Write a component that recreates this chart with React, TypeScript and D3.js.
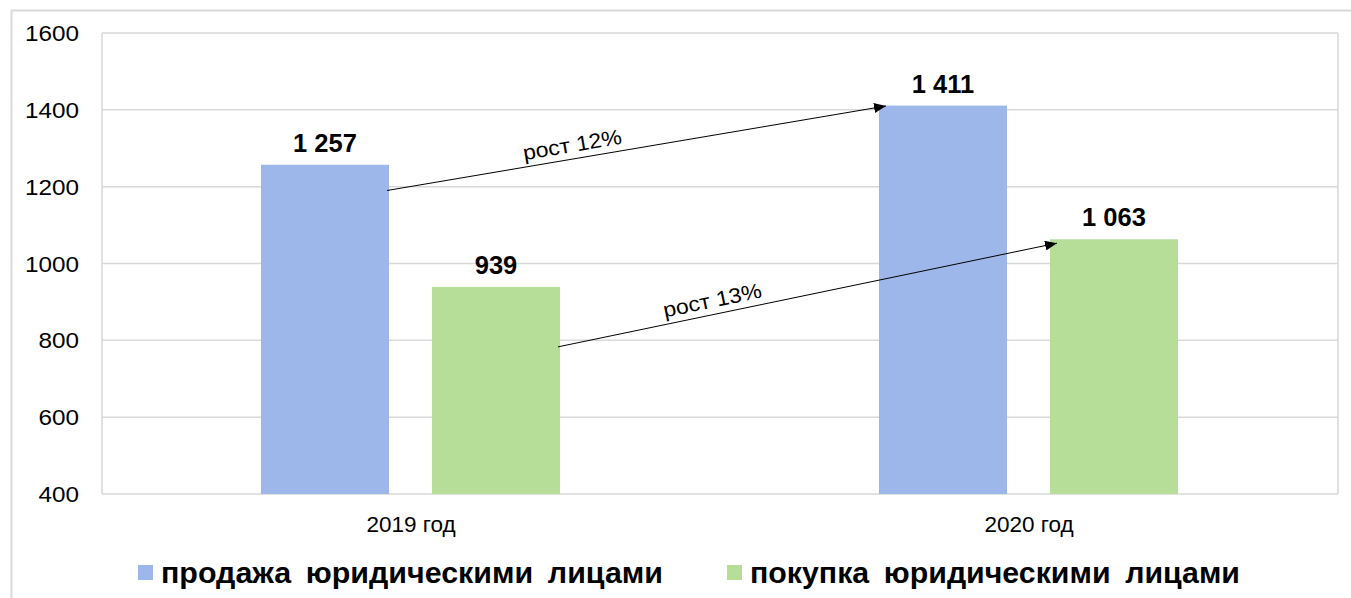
import React from "react";
import * as d3 from "d3";

const categories = ["2019 год", "2020 год"];
const seriesNames = ["продажа юридическими лицами", "покупка юридическими лицами"];
const seriesColors = ["#9db7eb", "#b6de98"];
const sales = [1257, 1411];
const purchases = [939, 1063];
const valueLabels = [["1 257", "1 411"], ["939", "1 063"]];
const yTicks = [400, 600, 800, 1000, 1200, 1400, 1600];
// growth arrows: series index, start value (at 2019 bar right edge), end value (at 2020 bar left edge)
const arrowSeries = [0, 1];
const arrowStart = [1190, 783];
const arrowEnd = [1410, 1053];
const arrowLabels = ["рост 12%", "рост 13%"];
const arrowLabelPos = [0.376, 0.315];

const W = 1351;
const H = 598;
const M = { left: 102, top: 33, right: 1338, bottom: 494 };
const FONT = "'Liberation Sans', Arial, sans-serif";

export default function App() {
  const x = d3.scaleBand<string>().domain(categories).range([M.left, M.right]);
  const y = d3.scaleLinear().domain([400, 1600]).range([M.bottom, M.top]);
  const barW = 128;
  const offsets = [-86, 85];
  const series = [sales, purchases];
  const cx = (c: string) => (x(c) as number) + x.bandwidth() / 2;
  const barLeft = (si: number, ci: number) => cx(categories[ci]) + offsets[si] - barW / 2;

  return (
    <svg width={W} height={H} style={{ position: "absolute", left: 0, top: 0, background: "#fff" }}>
      <defs>
        <marker id="ah" viewBox="0 0 12 10" refX="12" refY="5" markerWidth="12" markerHeight="10" markerUnits="userSpaceOnUse" orient="auto">
          <path d="M0,0 L12,5 L0,10 Z" fill="#000" />
        </marker>
      </defs>
      <rect x={0} y={0} width={W} height={H} fill="#fff" />
      {/* outer frame */}
      <line x1={11} x2={W} y1={10.5} y2={10.5} stroke="#d9d9d9" strokeWidth={2} />
      <line x1={11.5} x2={11.5} y1={10} y2={H} stroke="#d9d9d9" strokeWidth={2} />
      {/* gridlines */}
      {yTicks.map((t) => (
        <line key={t} x1={M.left} x2={M.right} y1={y(t)} y2={y(t)} stroke="#d9d9d9" strokeWidth={1.5} />
      ))}
      <line x1={M.left} x2={M.left} y1={M.top} y2={M.bottom} stroke="#d9d9d9" strokeWidth={1.5} />
      <line x1={M.right} x2={M.right} y1={M.top} y2={M.bottom} stroke="#d9d9d9" strokeWidth={1.5} />
      {/* y tick labels */}
      {yTicks.map((t) => {
        const s = String(t);
        return (
          <text key={t} x={79} y={y(t) + 8} textAnchor="end" fontFamily={FONT} fontSize={22}
            textLength={s.length * 13.5} lengthAdjust="spacingAndGlyphs" fill="#000">
            {s}
          </text>
        );
      })}
      {/* bars */}
      {series.map((vals, si) =>
        vals.map((v, ci) => (
          <rect key={`${si}-${ci}`} x={barLeft(si, ci)} y={y(v)} width={barW} height={M.bottom - y(v)} fill={seriesColors[si]} />
        ))
      )}
      {/* value labels */}
      {series.map((vals, si) =>
        vals.map((v, ci) => (
          <text key={`l${si}-${ci}`} x={barLeft(si, ci) + barW / 2} y={y(v) - 13} textAnchor="middle" fontFamily={FONT} fontWeight="bold" fontSize={25.5} fill="#000">
            {valueLabels[si][ci]}
          </text>
        ))
      )}
      {/* arrows */}
      {arrowSeries.map((si, i) => {
        const x1 = barLeft(si, 0) + barW - 2;
        const y1 = y(arrowStart[i]);
        const x2 = barLeft(si, 1) + 7;
        const y2 = y(arrowEnd[i]);
        const ang = (Math.atan2(y2 - y1, x2 - x1) * 180) / Math.PI;
        const t = arrowLabelPos[i];
        const lx = x1 + (x2 - x1) * t;
        const ly = y1 + (y2 - y1) * t;
        return (
          <g key={`a${i}`}>
            <line x1={x1} y1={y1} x2={x2} y2={y2} stroke="#000" strokeWidth={1} markerEnd="url(#ah)" />
            <text transform={`translate(${lx},${ly}) rotate(${ang})`} y={-7} textAnchor="middle" fontFamily={FONT} fontSize={21}
              textLength={100} lengthAdjust="spacingAndGlyphs" fill="#000">
              {arrowLabels[i]}
            </text>
          </g>
        );
      })}
      {/* x labels */}
      {categories.map((c) => (
        <text key={c} x={cx(c)} y={532} textAnchor="middle" fontFamily={FONT} fontSize={22.5} fill="#000">
          {c}
        </text>
      ))}
      {/* legend */}
      {seriesNames.map((n, i) => {
        const lx = [138, 727][i];
        const tl = [502, 490][i];
        return (
          <g key={n}>
            <rect x={lx} y={565} width={15} height={15} fill={seriesColors[i]} />
            <text x={lx + 23} y={583} fontFamily={FONT} fontWeight="bold" fontSize={29} wordSpacing={6}
              textLength={tl} lengthAdjust="spacingAndGlyphs" fill="#000">
              {n}
            </text>
          </g>
        );
      })}
    </svg>
  );
}
